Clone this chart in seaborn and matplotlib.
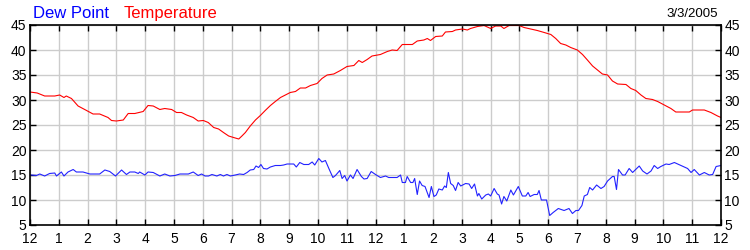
import matplotlib
matplotlib.use("Agg")
import matplotlib.pyplot as plt
import seaborn as sns
import pandas as pd

# ---- data (hours after midnight, °F) ----
temp_hours = [0, 0.25, 0.51, 0.86, 1.03, 1.18, 1.26, 1.44, 1.67, 1.90, 2.19, 2.42, 2.71, 2.83,
              3.0, 3.24, 3.41, 3.64, 3.93, 4.10, 4.28, 4.51, 4.68, 4.92, 5.09, 5.26, 5.44, 5.67,
              5.84, 6.02, 6.19, 6.38, 6.55, 6.72, 6.9, 7.07, 7.25, 7.36, 7.48, 7.65, 7.83, 8.0,
              8.17, 8.35, 8.52, 8.7, 8.87, 9.04, 9.22, 9.39, 9.57, 9.74, 9.97, 10.14, 10.32,
              10.55, 10.78, 11.01, 11.25, 11.42, 11.54, 11.71, 11.88, 12.17, 12.41, 12.58,
              12.75, 12.93, 13.28, 13.45, 13.68, 13.8, 13.91, 14.09, 14.32, 14.43, 14.67,
              14.78, 15.02, 15.19, 15.3, 15.54, 15.77, 16.0, 16.17, 16.35, 16.46, 16.64,
              16.99, 17.16, 17.39, 17.62, 17.86, 18.09, 18.26, 18.43, 18.61, 18.78, 19.01,
              19.19, 19.36, 19.54, 19.71, 19.88, 20.06, 20.23, 20.41, 20.7, 20.87, 21.04,
              21.22, 21.39, 21.62, 21.8, 22.03, 22.26, 22.43, 22.9, 23.01, 23.42, 23.65,
              23.88, 24.0]
temp_values = [31.6, 31.4, 30.8, 30.8, 31.0, 30.5, 30.8, 30.3, 28.8, 28.1, 27.2, 27.2, 26.5, 25.9,
               25.8, 26.0, 27.3, 27.3, 27.7, 28.9, 28.8, 28.1, 28.3, 28.1, 27.5, 27.5, 27.0, 26.5,
               25.8, 25.9, 25.5, 24.5, 24.2, 23.5, 22.8, 22.5, 22.2, 22.8, 23.5, 24.8, 26.0, 26.9,
               27.9, 28.9, 29.7, 30.5, 31.0, 31.5, 31.7, 32.4, 32.4, 32.9, 33.3, 34.3, 35.0,
               35.2, 35.9, 36.7, 36.9, 37.9, 37.5, 38.1, 38.8, 39.1, 39.7, 40.0,
               39.9, 41.1, 41.1, 41.8, 42.0, 42.3, 41.9, 42.7, 42.8, 43.6, 43.7,
               44.0, 44.2, 44.0, 44.3, 44.7, 44.9, 44.3, 44.8, 44.8, 44.3, 44.9,
               44.9, 44.5, 44.2, 43.9, 43.5, 43.1, 42.3, 41.3, 41.0, 40.5, 40.0,
               39.1, 38.0, 36.8, 36.0, 35.2, 35.0, 33.8, 33.2, 33.1, 32.3, 31.9,
               31.0, 30.3, 30.1, 29.7, 29.0, 28.3, 27.6, 27.6, 28.0, 28.0, 27.5,
               26.8, 26.5]

dew_hours = [0, 0.05, 0.22, 0.34, 0.51, 0.68, 0.86, 0.92, 1.09, 1.18, 1.32, 1.50, 1.61, 1.84,
             1.96, 2.08, 2.42, 2.60, 2.77, 2.97, 3.18, 3.35, 3.47, 3.64, 3.76, 3.81, 3.99, 4.10,
             4.28, 4.51, 4.68, 4.86, 5.03, 5.21, 5.50, 5.67, 5.84, 5.96, 6.08, 6.2, 6.32, 6.49,
             6.61, 6.72, 6.84, 6.96, 7.13, 7.28, 7.42, 7.54, 7.65, 7.77, 7.85, 7.94, 8.02, 8.11,
             8.23, 8.35, 8.52, 8.7, 8.81, 8.93, 9.16, 9.25, 9.37, 9.51, 9.68, 9.8, 9.89, 10.03,
             10.14, 10.26, 10.38, 10.52, 10.61, 10.76, 10.84, 10.93, 11.01, 11.13, 11.22, 11.36,
             11.51, 11.6, 11.71, 11.85, 12.0, 12.17, 12.35, 12.46, 12.75, 12.87, 12.93, 13.04,
             13.10, 13.22, 13.30, 13.36, 13.45, 13.53, 13.62, 13.72, 13.86, 13.94, 14.03, 14.11,
             14.2, 14.32, 14.4, 14.46, 14.53, 14.61, 14.70, 14.78, 14.87, 14.96, 15.13, 15.25,
             15.34, 15.44, 15.54, 15.59, 15.69, 15.83, 15.92, 16.0, 16.12, 16.23, 16.29, 16.38,
             16.46, 16.56, 16.70, 16.79, 16.96, 17.10, 17.22, 17.30, 17.37, 17.51, 17.62, 17.68,
             17.76, 17.94, 18.05, 18.17, 18.35, 18.55, 18.72, 18.84, 18.96, 19.05, 19.17, 19.25,
             19.36, 19.44, 19.54, 19.68, 19.83, 19.94, 20.06, 20.23, 20.29, 20.37, 20.44, 20.58,
             20.67, 20.81, 20.93, 21.16, 21.28, 21.43, 21.57, 21.68, 21.80, 21.91, 22.09, 22.2,
             22.38, 22.61, 22.84, 22.96, 23.07, 23.25, 23.42, 23.59, 23.71, 23.83, 24.0]
dew_values = [15.0, 15.0, 14.9, 15.2, 14.8, 15.3, 15.4, 14.8, 15.6, 14.8, 15.6, 16.1, 15.6, 15.6,
              15.4, 15.2, 15.2, 16.0, 15.7, 14.8, 16.0, 15.1, 15.6, 15.6, 15.3, 15.6, 15.0, 15.6,
              15.5, 14.8, 15.2, 14.8, 14.9, 15.2, 15.2, 15.6, 14.9, 15.2, 14.8, 14.8, 15.1, 14.8,
              15.1, 14.8, 15.1, 14.8, 15.0, 15.2, 15.1, 15.5, 16.0, 16.1, 16.8, 16.5, 17.1, 16.3,
              16.2, 16.6, 16.9, 16.9, 17.0, 17.2, 17.2, 16.6, 17.5, 17.1, 17.1, 17.6, 17.0, 18.3,
              17.6, 17.9, 16.3, 14.5, 14.9, 15.9, 14.3, 14.9, 13.8, 15.0, 14.3, 16.1,
              14.7, 14.2, 14.3, 15.7, 15.1, 14.5, 14.8, 14.5, 14.5, 15.0, 13.5, 13.5,
              14.7, 13.5, 13.5, 14.3, 11.1, 13.8, 12.9, 12.7, 10.5, 12.7, 10.7, 11.0,
              12.2, 12.0, 12.8, 12.5, 15.5, 13.3, 12.9, 11.9, 13.5, 12.8, 13.3, 13.2,
              12.3, 13.2, 10.8, 11.3, 10.2, 11.0, 11.2, 10.8, 12.3, 11.2, 11.0, 9.2,
              10.7, 9.8, 12.0, 11.0, 12.7, 10.8, 10.8, 11.5, 10.7, 11.1, 11.1, 11.9,
              10.0, 10.0, 6.9, 7.5, 8.3, 7.9, 8.3, 7.3, 7.9, 7.9, 8.9, 10.8,
              11.1, 12.5, 12.0, 13.0, 12.3, 12.7, 13.8, 14.7, 14.7, 12.1, 16.1, 15.0,
              15.0, 16.3, 15.5, 16.8, 15.8, 15.2, 15.8, 16.9, 16.3, 16.7, 17.2, 17.1,
              17.5, 16.9, 16.3, 15.5, 16.1, 15.0, 15.5, 15.0, 15.1, 16.7, 16.9]

x_tick_labels = ["12", "1", "2", "3", "4", "5", "6", "7", "8", "9", "10", "11",
                 "12", "1", "2", "3", "4", "5", "6", "7", "8", "9", "10", "11", "12"]
y_ticks = [5, 10, 15, 20, 25, 30, 35, 40, 45]
series_names = ["Dew Point", "Temperature"]
date_label = "3/3/2005"

# ---- styling ----
sns.set_style("white")
plt.rcParams["font.family"] = ["Liberation Sans", "DejaVu Sans"]

temp_df = pd.DataFrame({"hour": temp_hours, "value": temp_values})
dew_df = pd.DataFrame({"hour": dew_hours, "value": dew_values})

fig = plt.figure(figsize=(7.5, 2.5), dpi=100)
ax = fig.add_axes([30 / 750, 25 / 250, 691 / 750, 200 / 250])

sns.lineplot(data=dew_df, x="hour", y="value", ax=ax, color="#2222ff", linewidth=0.8,
             estimator=None, sort=False)
sns.lineplot(data=temp_df, x="hour", y="value", ax=ax, color="#ff0000", linewidth=0.8,
             estimator=None, sort=False)

ax.set_xlim(0, 24)
ax.set_ylim(5, 45)
ax.set_xticks(range(25))
ax.set_xticklabels(x_tick_labels)
ax.set_yticks(y_ticks)
ax.set_xlabel("")
ax.set_ylabel("")

ax.grid(True, color="#cccccc", linewidth=1.0)
ax.set_axisbelow(True)
for s in ax.spines.values():
    s.set_color("black")
    s.set_linewidth(1.2)

ax.tick_params(axis="both", which="major", direction="in", length=4, width=1,
               color="black", labelsize=10, labelcolor="black",
               top=True, right=True, labelright=True, left=True, bottom=True)
ax.tick_params(axis="y", pad=2.5)
ax.tick_params(axis="x", pad=5)

fig.text(33 / 750, 1 - 18 / 250, series_names[0], color="#0000ff", fontsize=12,
         va="baseline", ha="left")
fig.text(124 / 750, 1 - 18 / 250, series_names[1], color="#ff0000", fontsize=12,
         va="baseline", ha="left")
fig.text(718 / 750, 1 - 17 / 250, date_label, color="black", fontsize=9.5,
         va="baseline", ha="right")

fig.savefig("out.png", dpi=100)
